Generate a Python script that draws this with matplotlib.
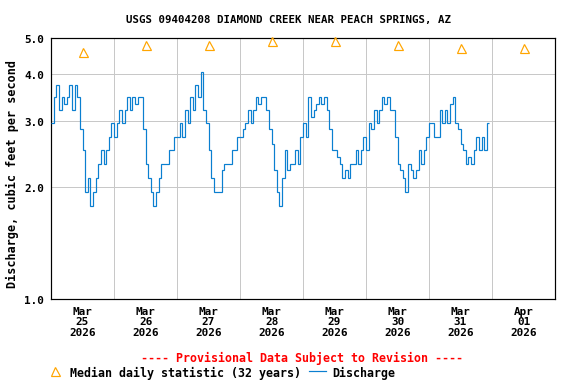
import matplotlib
matplotlib.use('Agg')
import matplotlib.pyplot as plt
import matplotlib.dates as mdates
from matplotlib.lines import Line2D
from matplotlib.ticker import FixedLocator, FormatStrFormatter, NullLocator
import pandas as pd

## Data
# median daily statistic, one per day, plotted at noon
median_days = pd.date_range('2026-03-25 12:00', periods=8, freq='D')
median_cfs = [4.6, 4.8, 4.8, 4.9, 4.9, 4.8, 4.7, 4.7]

# hourly discharge, cfs, starting Mar 25 00:00
q_mar25 = [2.96, 3.47, 3.74, 3.21, 3.47, 3.33, 3.47, 3.74, 3.21, 3.74, 3.47, 2.85,
           2.51, 1.93, 2.11, 1.77, 1.93, 2.11, 2.30, 2.51, 2.30, 2.51, 2.71, 2.96]
q_mar26 = [2.71, 2.96, 3.21, 2.96, 3.21, 3.47, 3.21, 3.47, 3.33, 3.47, 3.47, 2.85,
           2.30, 2.11, 1.93, 1.77, 1.93, 2.11, 2.30, 2.30, 2.30, 2.51, 2.51, 2.71]
q_mar27 = [2.71, 2.96, 2.71, 3.21, 2.96, 3.47, 3.21, 3.74, 3.47, 4.05, 3.21, 2.96,
           2.51, 2.11, 1.93, 1.93, 1.93, 2.21, 2.30, 2.30, 2.30, 2.51, 2.51, 2.71]
q_mar28 = [2.71, 2.85, 2.96, 3.21, 2.96, 3.21, 3.47, 3.33, 3.47, 3.47, 3.21, 2.85,
           2.60, 2.21, 1.93, 1.77, 2.11, 2.51, 2.21, 2.30, 2.30, 2.51, 2.30, 2.71]
q_mar29 = [2.96, 2.71, 3.47, 3.07, 3.21, 3.33, 3.47, 3.33, 3.47, 3.21, 2.85, 2.51,
           2.51, 2.40, 2.30, 2.11, 2.21, 2.11, 2.30, 2.30, 2.51, 2.30, 2.51, 2.71]
q_mar30 = [2.51, 2.96, 2.85, 3.21, 2.96, 3.21, 3.47, 3.33, 3.47, 3.21, 3.21, 2.71,
           2.30, 2.21, 2.11, 1.93, 2.30, 2.21, 2.11, 2.21, 2.51, 2.30, 2.51, 2.71]
q_mar31 = [2.96, 2.96, 2.71, 2.71, 3.21, 2.96, 3.21, 2.96, 3.33, 3.47, 2.96, 2.85,
           2.60, 2.51, 2.30, 2.40, 2.30, 2.51, 2.71, 2.51, 2.71, 2.51, 2.96]

discharge = q_mar25 + q_mar26 + q_mar27 + q_mar28 + q_mar29 + q_mar30 + q_mar31
q_edges = pd.date_range('2026-03-25 00:00', periods=len(discharge) + 1, freq='h')

y_ticks = [1.0, 2.0, 3.0, 4.0, 5.0]
x_start = pd.Timestamp('2026-03-25')
x_end = pd.Timestamp('2026-04-02')

title = 'USGS 09404208 DIAMOND CREEK NEAR PEACH SPRINGS, AZ'
ylabel = 'Discharge, cubic feet per second'
provisional = '---- Provisional Data Subject to Revision ----'

blue = '#0a7fd0'
orange = '#ffa500'

plt.rcParams['font.family'] = 'DejaVu Sans Mono'
plt.rcParams['font.weight'] = 'bold'
plt.rcParams['font.size'] = 11

fig = plt.figure(figsize=(8, 5.333), dpi=72)
ax = fig.add_axes([51 / 576, 1 - 300 / 384, 504 / 576, 261 / 384])

ax.plot(median_days, median_cfs, linestyle='none', marker='^', markersize=9,
        markerfacecolor='none', markeredgecolor=orange, markeredgewidth=1.2,
        clip_on=False, zorder=4)
ax.stairs(discharge, mdates.date2num(q_edges), baseline=None, color=blue, lw=1.2, zorder=3)

ax.set_yscale('log')
ax.set_ylim(1.0, 5.0)
ax.yaxis.set_major_locator(FixedLocator(y_ticks))
ax.yaxis.set_major_formatter(FormatStrFormatter('%.1f'))
ax.yaxis.set_minor_locator(NullLocator())

ax.set_xlim(x_start, x_end)
ax.xaxis.set_major_locator(mdates.DayLocator())
ax.xaxis.set_major_formatter(plt.NullFormatter())
ax.xaxis.set_minor_locator(mdates.HourLocator(byhour=12))
ax.xaxis.set_minor_formatter(mdates.DateFormatter('%b\n%d\n%Y'))

ax.tick_params(which='both', length=0)
ax.tick_params(axis='y', pad=7)
ax.tick_params(axis='x', which='minor', pad=7)
for lab in ax.xaxis.get_minorticklabels():
    lab.set_linespacing(1.05)

ax.grid(True, which='major', color='#c8c8c8', lw=1)
ax.set_axisbelow(True)
for sp in ax.spines.values():
    sp.set_color('black')
    sp.set_linewidth(1.2)

fig.text(0.5, 1 - 20 / 384, title, ha='center', va='center', fontsize=10.8)
fig.text(12 / 576, 1 - 174 / 384, ylabel, rotation=90, ha='center', va='center', fontsize=11.7)
fig.text(302 / 576, 1 - 358 / 384, provisional, color='red', ha='center', va='center',
         fontsize=11.6)

handles = [Line2D([], [], linestyle='none', marker='^', markersize=9,
                  markerfacecolor='none', markeredgecolor=orange, markeredgewidth=1.2),
           Line2D([], [], color=blue, lw=1.2)]
fig.legend(handles, ['Median daily statistic (32 years)', 'Discharge'],
           loc='center left', bbox_to_anchor=(47 / 576, 1 - 373 / 384), ncol=2,
           frameon=False, handlelength=1.4, handletextpad=0.6, columnspacing=0.7,
           borderpad=0, borderaxespad=0, prop={'size': 11.6, 'weight': 'bold'})

fig.savefig('out.png', dpi=72)
